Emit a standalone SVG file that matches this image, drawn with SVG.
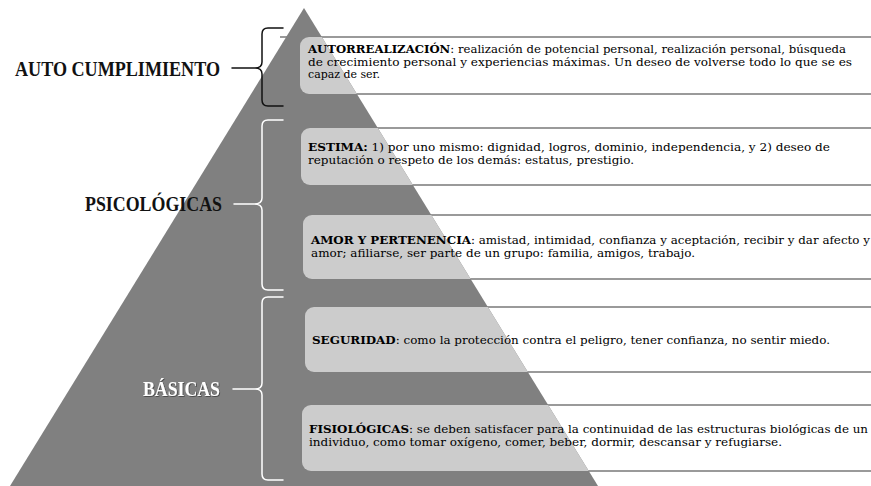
<svg xmlns="http://www.w3.org/2000/svg" width="871" height="486" viewBox="0 0 871 486">
<style>
.line{stroke:#7a7a7a;stroke-width:1.5;fill:none}
.box{fill:#cccccc}
.t{font-family:"DejaVu Serif","Liberation Serif",serif;font-size:11.5px;fill:#000}
.b{font-weight:bold}
.lbl{font-family:"Liberation Serif","DejaVu Serif",serif;font-size:21px;font-weight:bold}
.brace{fill:none;stroke-width:1.5;stroke-linecap:round;stroke-linejoin:round}
</style>
<defs>
<clipPath id="tri"><path d="M304,8 L598,486 L10,486 Z"/></clipPath>
<filter id="sh" x="-10%" y="-20%" width="120%" height="140%"><feDropShadow dx="0.8" dy="0.8" stdDeviation="0.6" flood-color="#000" flood-opacity="0.5"/></filter>
</defs>
<rect width="871" height="486" fill="#ffffff"/>
<g id="rules">
<path class="line" d="M280,37H871M280,94H871M280,128H871M280,185H871M280,215H871M280,279H871M280,307H871M280,372H871M280,405H871M280,471H871"/>
</g>
<path id="pyramid" d="M304,8 L598,486 L10,486 Z" fill="#808080"/>
<g clip-path="url(#tri)">
<rect class="box" x="300" y="37" width="600" height="57" rx="9"/>
<rect class="box" x="301" y="128" width="600" height="57" rx="9"/>
<rect class="box" x="303" y="215" width="600" height="64" rx="9"/>
<rect class="box" x="305" y="307" width="600" height="65" rx="9"/>
<rect class="box" x="302" y="405" width="600" height="66" rx="9"/>
</g>
<g id="n-autorrealizacion">
<text class="t" x="308" y="53" textLength="538" lengthAdjust="spacingAndGlyphs"><tspan class="b">AUTORREALIZACIÓN</tspan>: realización de potencial personal, realización personal, búsqueda</text>
<text class="t" x="308" y="65.5" textLength="544" lengthAdjust="spacingAndGlyphs">de crecimiento personal y experiencias máximas. Un deseo de volverse todo lo que se es</text>
<text class="t" x="308" y="78" textLength="72" lengthAdjust="spacingAndGlyphs">capaz de ser.</text>
</g>
<g id="n-estima">
<text class="t" x="308" y="151" textLength="522" lengthAdjust="spacingAndGlyphs"><tspan class="b">ESTIMA:</tspan> 1) por uno mismo: dignidad, logros, dominio, independencia, y 2) deseo de</text>
<text class="t" x="308" y="164" textLength="326" lengthAdjust="spacingAndGlyphs">reputación o respeto de los demás: estatus, prestigio.</text>
</g>
<g id="n-amor">
<text class="t" x="311" y="243.5" textLength="559" lengthAdjust="spacingAndGlyphs"><tspan class="b">AMOR Y PERTENENCIA</tspan>: amistad, intimidad, confianza y aceptación, recibir y dar afecto y</text>
<text class="t" x="311" y="256.5" textLength="384" lengthAdjust="spacingAndGlyphs">amor; afiliarse, ser parte de un grupo: familia, amigos, trabajo.</text>
</g>
<g id="n-seguridad">
<text class="t" x="312" y="343.5" textLength="518" lengthAdjust="spacingAndGlyphs"><tspan class="b">SEGURIDAD</tspan>: como la protección contra el peligro, tener confianza, no sentir miedo.</text>
</g>
<g id="n-fisiologicas">
<text class="t" x="309" y="433" textLength="559" lengthAdjust="spacingAndGlyphs"><tspan class="b">FISIOLÓGICAS</tspan>: se deben satisfacer para la continuidad de las estructuras biológicas de un</text>
<text class="t" x="309" y="446" textLength="473" lengthAdjust="spacingAndGlyphs">individuo, como tomar oxígeno, comer, beber, dormir, descansar y refugiarse.</text>
</g>
<g id="connectors">
<path class="brace" stroke="#111" d="M283,28 L268,28 Q262,28 262,34 L262,62 Q262,68 255,68 Q262,68 262,74 L262,100 Q262,106 268,106 L283,106 M232,68 L255,68"/>
<path class="brace" stroke="#ffffff" d="M283,120 L268,120 Q262,120 262,126 L262,198 Q262,204 254,204 Q262,204 262,210 L262,284 Q262,290 268,290 L283,290 M234,204 L254,204"/>
<path class="brace" stroke="#ffffff" d="M283,297 L268,297 Q262,297 262,303 L262,383 Q262,389 255,389 Q262,389 262,395 L262,474 Q262,480 268,480 L283,480 M233,389 L255,389"/>
</g>
<g id="labels">
<text class="lbl" x="15" y="75.5" fill="#111" textLength="205" lengthAdjust="spacingAndGlyphs">AUTO CUMPLIMIENTO</text>
<text class="lbl" x="85" y="211" fill="#111" textLength="137" lengthAdjust="spacingAndGlyphs">PSICOLÓGICAS</text>
<text class="lbl" x="143" y="396" fill="#ffffff" filter="url(#sh)" textLength="77" lengthAdjust="spacingAndGlyphs">BÁSICAS</text>
</g>
</svg>
